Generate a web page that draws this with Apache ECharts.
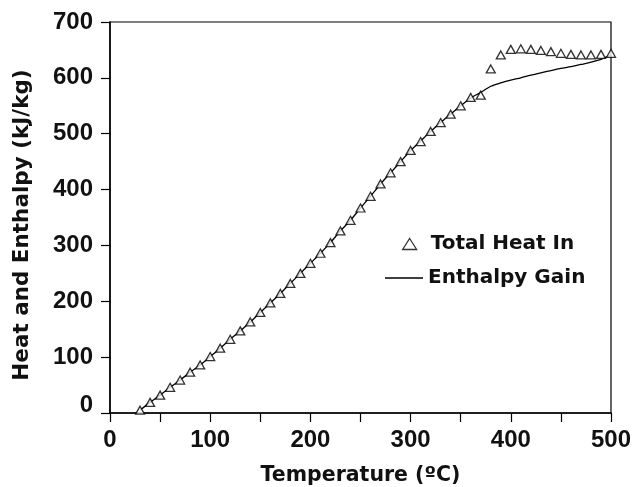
<!DOCTYPE html>
<html>
<head>
<meta charset="utf-8">
<script src="https://cdn.jsdelivr.net/npm/echarts@6/dist/echarts.min.js"></script>
<style>html,body{margin:0;padding:0;background:#fff;}#c{width:634px;height:487px;}</style>
</head>
<body>
<div id="c"></div>
<script>
// Total Heat In (triangles)
var heatTemps = [30,40,50,60,70,80,90,100,110,120,130,140,150,160,170,180,190,200,210,220,230,240,250,260,270,280,290,300,310,320,330,340,350,360,370,380,390,400,410,420,430,440,450,460,470,480,490,500];
var heatValues = [5,19,32,46,59,73,86,101,116,132,147,163,180,197,214,232,250,268,286,305,326,345,367,388,410,430,450,470,486,504,520,535,550,565,569,616,641,651,652,651,649,647,644,642,641,641,642,644];
// Enthalpy Gain (line)
var enthTemps = [30,40,50,60,70,80,90,100,110,120,130,140,150,160,170,180,190,200,210,220,230,240,250,260,270,280,290,300,310,320,330,340,350,360,370,380,390,400,410,420,430,440,450,460,470,480,490,500];
var enthValues = [5,19,32,46,59,73,86,101,116,132,147,163,180,197,214,232,250,268,286,305,326,345,367,388,410,430,450,470,487,504,520,535,550,564,574,585,591,596,600,605,609,613,617,620,624,628,633,641];

var heatData = heatTemps.map(function(t,i){return [t, heatValues[i]];});
var enthData = enthTemps.map(function(t,i){return [t, enthValues[i]];});

var TXT = 'DejaVu Sans';
var NUM = 'Liberation Sans';

var chart = echarts.init(document.getElementById('c'), null, {renderer:'canvas'});
chart.setOption({
  backgroundColor: '#fff',
  animation: false,
  grid: {left:110, right:23, top:22, bottom:74, containLabel:false, outerBoundsMode:'none',
         show:true, borderColor:'#000', borderWidth:1.2, backgroundColor:'transparent'},
  xAxis: {
    type:'value', min:0, max:500, interval:50,
    name:'Temperature (\u00BAC)', nameLocation:'middle', nameGap:52,
    nameTextStyle:{fontFamily:TXT, fontWeight:'bold', fontSize:20.5, color:'#111'},
    axisLine:{show:true, lineStyle:{color:'#000', width:1.5}},
    axisTick:{show:true, inside:false, length:9, lineStyle:{color:'#000', width:1.2}},
    axisLabel:{margin:15, fontFamily:NUM, fontWeight:'bold', fontSize:24, color:'#111',
      formatter:function(v){return v%100===0 ? String(v) : '';}},
    splitLine:{show:false}
  },
  yAxis: {
    type:'value', min:0, max:700, interval:100,
    name:'Heat and Enthalpy (kJ/kg)', nameLocation:'middle', nameGap:77,
    nameTextStyle:{fontFamily:TXT, fontWeight:'bold', fontSize:21.5, color:'#111', padding:[0,15,0,0]},
    axisLine:{show:true, lineStyle:{color:'#000', width:1.5}},
    axisTick:{show:true, inside:false, length:9, lineStyle:{color:'#000', width:1.2}},
    axisLabel:{margin:17, fontFamily:NUM, fontWeight:'bold', fontSize:24, color:'#111',
      formatter:function(v){return v===0 ? '{z|0}' : String(v);},
      rich:{z:{fontFamily:NUM, fontWeight:'bold', fontSize:24, color:'#111', padding:[0,0,16,0]}}},
    splitLine:{show:false}
  },
  legend: [
    {
      data:['Total Heat In'], left:397, top:229, orient:'vertical',
      icon:'triangle', itemWidth:14, itemHeight:11,
      itemStyle:{color:'#fff', borderColor:'#000', borderWidth:1.3},
      textStyle:{fontFamily:TXT, fontWeight:'bold', fontSize:20, color:'#111', padding:[3,0,0,9]}
    },
    {
      data:['Enthalpy Gain'], left:380, top:263, orient:'vertical',
      icon:'rect', itemWidth:38, itemHeight:1.5,
      itemStyle:{color:'#000', borderWidth:0},
      textStyle:{fontFamily:TXT, fontWeight:'bold', fontSize:20, color:'#111', padding:[0,0,0,0]}
    }
  ],
  series: [
    {
      name:'Enthalpy Gain', type:'line', data:enthData, smooth:0.3,
      showSymbol:false, symbol:'none', color:'#000',
      lineStyle:{color:'#000', width:1.3}, z:2
    },
    {
      name:'Total Heat In', type:'scatter', data:heatData,
      symbol:'triangle', symbolSize:[9,8],
      itemStyle:{color:'#fff', borderColor:'#000', borderWidth:1.3}, z:3
    }
  ]
});
</script>
</body>
</html>
